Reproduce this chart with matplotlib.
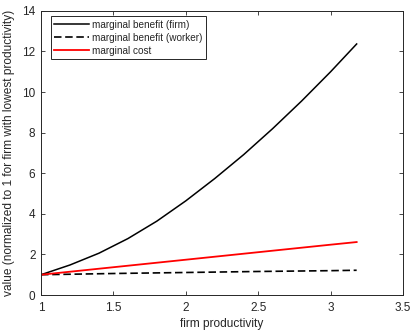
import matplotlib
matplotlib.use("Agg")
import matplotlib.pyplot as plt

plt.rcParams['font.family'] = ['Liberation Sans', 'DejaVu Sans']

# data
x_firm = [1.0, 1.2, 1.4, 1.6, 1.8, 2.0, 2.2, 2.4, 2.6, 2.8, 3.0, 3.18]
y_firm = [1.0, 1.48, 2.06, 2.78, 3.64, 4.64, 5.74, 6.92, 8.2, 9.56, 11.0, 12.37]

x_lin = [1.0, 1.5, 2.0, 2.5, 3.0, 3.18]
y_worker = [1.0, 1.06, 1.11, 1.16, 1.20, 1.22]
y_cost = [1.0, 1.37, 1.74, 2.11, 2.48, 2.61]

labels = ['marginal benefit (firm)', 'marginal benefit (worker)', 'marginal cost']
xticks = [1, 1.5, 2, 2.5, 3, 3.5]
yticks = [0, 2, 4, 6, 8, 10, 12, 14]

grey = '#262626'
fig = plt.figure(figsize=(4.11, 3.30), dpi=100)
ax = fig.add_axes([0.0998, 0.106, 0.8807, 0.861])

ax.plot(x_firm, y_firm, color='black', lw=1.1, label=labels[0])
ax.plot(x_lin, y_worker, color='black', lw=1.2, dashes=(4.5, 2.2), label=labels[1])
ax.plot(x_lin, y_cost, color='#ff0000', lw=1.3, label=labels[2])

ax.set_xlim(1, 3.5)
ax.set_ylim(0, 14)
ax.set_xticks(xticks)
ax.set_xticklabels(['1', '1.5', '2', '2.5', '3', '3.5'])
ax.set_yticks(yticks)
ax.tick_params(direction='in', length=3, width=0.6, top=True, right=True,
               labelsize=8.5, colors=grey)
ax.tick_params(axis='x', pad=5)
ax.tick_params(axis='y', pad=4)
for s in ax.spines.values():
    s.set_color(grey)
    s.set_linewidth(0.7)

ax.set_xlabel('firm productivity', fontsize=8.6, color=grey, labelpad=3)
ax.set_ylabel('value (normalized to 1 for firm with lowest productivity)',
              fontsize=8.6, color=grey, labelpad=5)

leg = ax.legend(loc='upper left', bbox_to_anchor=(0.027, 0.982), borderaxespad=0,
                fontsize=7.2, handlelength=3.5, handletextpad=0.3, borderpad=0.35,
                labelspacing=0.3, fancybox=False, framealpha=1, edgecolor=grey)
leg.get_frame().set_linewidth(0.7)
for t in leg.get_texts():
    t.set_color(grey)

fig.savefig('out.png', dpi=100)
